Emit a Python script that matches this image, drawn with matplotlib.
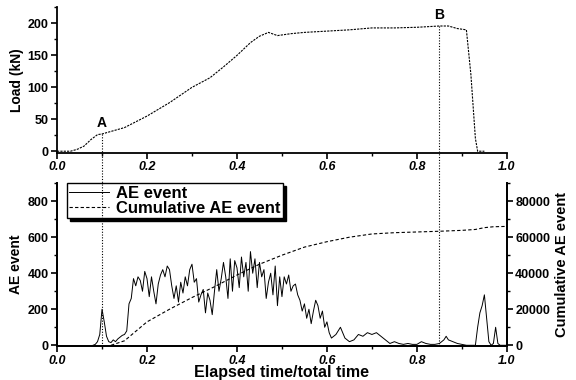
import matplotlib
matplotlib.use("Agg")
import matplotlib.pyplot as plt
from matplotlib.lines import Line2D
from matplotlib.ticker import MultipleLocator

plt.rcParams['font.family'] = ['Liberation Sans', 'DejaVu Sans']
plt.rcParams['font.weight'] = 'bold'

# load curve (top panel)
load_t = [0.0, 0.03, 0.045, 0.06, 0.075, 0.09, 0.1, 0.12, 0.15, 0.2, 0.25, 0.3, 0.34,
          0.37, 0.4, 0.43, 0.45, 0.47, 0.49, 0.52, 0.55, 0.6, 0.65, 0.7, 0.75, 0.8,
          0.85, 0.87, 0.89, 0.91, 0.92, 0.93, 0.935, 0.95]
load_kn = [0, 0, 3, 8, 18, 26, 27, 31, 37, 55, 76, 100, 115, 132, 150, 170, 180, 186,
           181, 184, 186, 188, 190, 193, 193, 194, 196, 196, 192, 190, 120, 20, 0, 0]

# AE event (bottom panel)
ae_t = [0.08, 0.085, 0.09, 0.095, 0.1, 0.105, 0.11, 0.115, 0.12, 0.125, 0.13, 0.135,
        0.14, 0.145, 0.15, 0.155, 0.16, 0.165, 0.17, 0.175, 0.18, 0.185, 0.19, 0.195,
        0.2, 0.205, 0.21, 0.215, 0.22, 0.225, 0.23, 0.235, 0.24, 0.245, 0.25, 0.255,
        0.26, 0.265, 0.27, 0.275, 0.28, 0.285, 0.29, 0.295, 0.3, 0.305, 0.31, 0.315,
        0.32, 0.325, 0.33, 0.335, 0.34, 0.345, 0.35, 0.355, 0.36, 0.365, 0.37, 0.375,
        0.38, 0.385, 0.39, 0.395, 0.4, 0.405, 0.41, 0.415, 0.42, 0.425, 0.43, 0.435,
        0.44, 0.445, 0.45, 0.455, 0.46, 0.465, 0.47, 0.475, 0.48, 0.485, 0.49, 0.495,
        0.5, 0.505, 0.51, 0.515, 0.52, 0.525, 0.53, 0.535, 0.54, 0.545, 0.55, 0.555,
        0.56, 0.565, 0.57, 0.575, 0.58, 0.585, 0.59, 0.595, 0.6, 0.605, 0.61, 0.62,
        0.63, 0.64, 0.65, 0.66, 0.67, 0.68, 0.69, 0.7, 0.71, 0.72, 0.73, 0.74, 0.75,
        0.76, 0.77, 0.78, 0.79, 0.8, 0.81, 0.82, 0.83, 0.84, 0.85, 0.86, 0.865, 0.87,
        0.88, 0.89, 0.9, 0.91, 0.93, 0.935, 0.94, 0.945, 0.95, 0.955, 0.96, 0.965,
        0.97, 0.975, 0.98, 0.985, 1.0]
ae_event = [0, 5, 20, 60, 200, 130, 50, 20, 15, 30, 20, 35,
            45, 55, 60, 80, 230, 260, 370, 330, 380, 360, 300, 410,
            370, 270, 380, 300, 230, 340, 390, 420, 380, 440, 420, 330,
            260, 330, 240, 350, 290, 380, 330, 420, 450, 350, 370, 240,
            280, 310, 180, 290, 250, 170, 300, 420, 300, 370, 460, 380,
            260, 480, 300, 470, 430, 320, 490, 380, 460, 300, 520, 400,
            480, 320, 460, 380, 420, 260, 350, 400, 280, 440, 220, 380,
            270, 380, 340, 390, 300, 330, 340, 280, 250, 190, 230, 150,
            200, 120, 190, 250, 220, 150, 190, 100, 130, 70, 40, 60,
            100, 40, 20, 30, 60, 50, 70, 60, 70, 50, 30, 10, 20,
            10, 5, 10, 5, 5, 20, 10, 5, 5, 10, 30, 50, 30,
            20, 10, 5, 0, 0, 100, 180, 220, 280, 150, 20, 0,
            10, 100, 10, 0, 0]

# cumulative AE event (right axis)
cum_t = [0.12, 0.15, 0.2, 0.25, 0.3, 0.35, 0.4, 0.45, 0.5, 0.55, 0.6, 0.65, 0.7,
         0.75, 0.8, 0.85, 0.9, 0.93, 0.95, 0.97, 1.0]
cum_ae = [0, 2500, 13000, 20000, 26500, 32500, 39000, 45000, 50000, 54500, 57500,
          60000, 61800, 62500, 62900, 63300, 63800, 64300, 65300, 65800, 66000]

marks = ['A', 'B']
mark_t = [0.1, 0.85]
mark_load = [27, 196]

fig = plt.figure(figsize=(5.76, 3.8), dpi=100)
ax1 = fig.add_axes([0.099, 0.597, 0.781, 0.385])
ax2 = fig.add_axes([0.099, 0.089, 0.781, 0.429])
ax3 = ax2.twinx()

ax1.plot(load_t, load_kn, color='black', lw=0.8, ls=(0, (2, 1)))
ax1.set_xlim(0, 1.0)
ax1.set_ylim(-3, 226)
ax1.set_ylabel('Load (kN)', fontsize=10, fontweight='bold', labelpad=3)
ax1.xaxis.set_major_locator(MultipleLocator(0.2))
ax1.xaxis.set_minor_locator(MultipleLocator(0.1))
ax1.yaxis.set_major_locator(MultipleLocator(50))
ax1.yaxis.set_minor_locator(MultipleLocator(25))
ax1.spines['top'].set_visible(False)
ax1.spines['right'].set_visible(False)

l1, = ax2.plot(ae_t, ae_event, color='black', lw=0.7)
l2, = ax3.plot(cum_t, cum_ae, color='black', lw=0.8, ls=(0, (3, 2)))
ax2.set_xlim(0, 1.0)
ax2.set_ylim(-5, 900)
ax3.set_ylim(-500, 90000)
ax2.set_ylabel('AE event', fontsize=10, fontweight='bold', labelpad=3)
ax3.set_ylabel('Cumulative AE event', fontsize=10.5, fontweight='bold', labelpad=3)
ax2.set_xlabel('Elapsed time/total time', fontsize=11.5, fontweight='bold', labelpad=-1)
ax2.xaxis.set_major_locator(MultipleLocator(0.2))
ax2.xaxis.set_minor_locator(MultipleLocator(0.1))
ax2.yaxis.set_major_locator(MultipleLocator(200))
ax2.yaxis.set_minor_locator(MultipleLocator(100))
ax3.yaxis.set_major_locator(MultipleLocator(20000))
ax3.yaxis.set_minor_locator(MultipleLocator(10000))
for a in (ax2, ax3):
    a.spines['top'].set_visible(False)

for a in (ax1, ax2, ax3):
    for s in a.spines.values():
        s.set_linewidth(1.3)
    a.tick_params(which='major', length=4, width=1.2, labelsize=9, pad=2)
    a.tick_params(which='minor', length=2, width=1)
for a in (ax1, ax2):
    for lab in a.get_xticklabels():
        lab.set_fontstyle('italic')
        lab.set_fontweight('bold')
    for lab in a.get_yticklabels():
        lab.set_fontweight('bold')
for lab in ax3.get_yticklabels():
    lab.set_fontweight('bold')

leg = ax2.legend([l1, l2], ['AE event', 'Cumulative AE event'], loc='upper left',
                 bbox_to_anchor=(0.022, 1.0), borderaxespad=0, fancybox=False,
                 shadow={'color': 'black', 'alpha': 1}, edgecolor='black',
                 framealpha=1, fontsize=12, handlelength=2.4, handletextpad=0.4,
                 labelspacing=0.0, borderpad=0.15)
leg.get_frame().set_linewidth(1.0)
for txt in leg.get_texts():
    txt.set_fontweight('bold')

# dotted markers linking both panels
inv = fig.transFigure.inverted()
for name, t, ld in zip(marks, mark_t, mark_load):
    top = inv.transform(ax1.transData.transform((t, ld)))
    bot = inv.transform(ax2.transData.transform((t, 0)))
    fig.add_artist(Line2D([top[0], bot[0]], [top[1], bot[1]], color='black',
                          lw=0.8, ls=(0, (1, 1.5))))
    ax1.text(t, ld + 6, name, ha='center', va='bottom', fontsize=10,
             fontweight='bold')

fig.savefig('out.png', dpi=100)
